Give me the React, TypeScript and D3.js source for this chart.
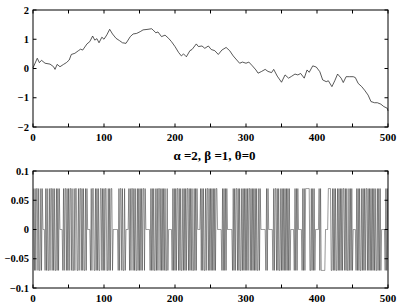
import React from "react";
import * as d3 from "d3";

const width = 399;
const height = 306;
const margin = { left: 33, right: 11 };
const topPanel = { top: 10, bottom: 127 };
const bottomPanel = { top: 171, bottom: 288 };

// upper panel: cumulative path
const walkX = [
  0, 6, 9, 12, 17, 24, 29, 31, 34, 38, 43, 47, 51, 54, 59, 64, 67, 70, 76, 80,
  84, 87, 90, 93, 97, 100, 104, 108, 112, 117, 122, 126, 131, 137, 141, 146, 151, 155, 162, 167,
  169, 173, 176, 181, 186, 191, 195, 200, 205, 209, 212, 216, 221, 224, 230, 233, 238, 242, 247, 251,
  256, 261, 266, 272, 277, 282, 287, 291, 295, 300, 304, 309, 314, 317, 322, 327, 331, 336, 339, 344,
  350, 355, 360, 364, 369, 373, 377, 382, 386, 389, 394, 399, 404, 408, 413, 416, 421, 425, 429, 434,
  437, 441, 446, 451, 454, 458, 463, 467, 472, 476, 481, 485, 490, 494, 499, 500,
];
const walkY = [
  0.02, 0.35, 0.2, 0.28, 0.18, 0.15, 0.06, -0.03, 0.14, 0.06, 0.14, 0.2, 0.29, 0.48, 0.52, 0.61, 0.66, 0.63, 0.84, 0.92,
  1.11, 0.97, 1.02, 0.88, 1.07, 1.0, 1.15, 1.34, 1.18, 1.03, 0.95, 0.88, 0.86, 1.09, 1.18, 1.2, 1.26, 1.32, 1.34, 1.36,
  1.32, 1.22, 1.25, 1.09, 1.14, 1.03, 0.92, 0.75, 0.55, 0.43, 0.5, 0.4, 0.61, 0.65, 0.84, 0.75, 0.77, 0.69, 0.77, 0.65,
  0.61, 0.48, 0.63, 0.72, 0.61, 0.43, 0.29, 0.18, 0.22, 0.18, 0.22, 0.09, -0.05, -0.16, -0.1, -0.03, -0.1, -0.14, -0.03, -0.26,
  -0.47, -0.22, -0.33, -0.27, -0.19, -0.22, -0.17, -0.33, -0.05, -0.13, 0.09, 0.05, -0.11, -0.39, -0.45, -0.42, -0.62, -0.42, -0.19, -0.33,
  -0.48, -0.28, -0.28, -0.28, -0.31, -0.51, -0.62, -0.74, -0.91, -1.13, -1.17, -1.17, -1.22, -1.3, -1.36, -1.45,
];

// lower panel: increments, "+" = +0.07, "-" = -0.07, "0" = 0
const stepLevel = 0.07;
const stepCodes = [
  "+-+-++-+--+-+000-+-+--+-++-+-+--+-+-+0000-+-++-+-+",
  "-++-+--+-++--+-++-+-+--+-+0000-+-++--+-+-+--++-+-+",
  "-++--+-+-++-0000000-+-++-+--+-0000+-+-++-+-+--+-+-",
  "+-+-++-+000000-+-+-+--+-+-++-+-+-+-+--+-00000-+-+-",
  "+-++-+-+--+-+-+-++-+-+-+--+-+-+0000+-+-+--+-++-+-+",
  "-+-+-+-++000000-+-+-+-+0000000-+-+-++-+-+--+-+-+-+",
  "-+-++-+-+-+-+-+--+-+0000000-+-+000000-+-++-+-+--+-",
  "+-+-+-+-+-+-00000-+-+-+00000-+-+-++++++--+-+-+-000",
  "00+-+------0000++++--+-+-+--+-+-+-+-++-+-+--+-+-+-",
  "0000-+-+-+--+-+-+-++-+-+-+-+-+-+--+-+-+-00000-+-+-",
];
const stepValues = stepCodes
  .join("")
  .split("")
  .map((c) => (c === "+" ? stepLevel : c === "-" ? -stepLevel : 0));

const xTicks = [0, 50, 100, 150, 200, 250, 300, 350, 400, 450, 500];
const xLabels = [0, 100, 200, 300, 400, 500];
const topYTicks = [-2, -1, 0, 1, 2];
const topYLabels = ["\u22122", "\u22121", "0", "1", "2"];
const bottomYTicks = [-0.1, -0.05, 0, 0.05, 0.1];
const bottomYLabels = ["\u22120.1", "\u22120.05", "0", "0.05", "0.1"];
const titleText = "\u03b1 =2, \u03b2 =1, \u03b8=0";

const font = "'Liberation Serif', 'Times New Roman', serif";
const tickLen = 3.5;

function Frame({ x, y, yTicks, yLabels }) {
  const [x0, x1] = x.range();
  const [y0, y1] = y.range();
  return (
    <g>
      <rect x={x0} y={y1} width={x1 - x0} height={y0 - y1} fill="none" stroke="#000" strokeWidth={1} />
      {xTicks.map((t) => (
        <g key={"xt" + t}>
          <line x1={x(t)} x2={x(t)} y1={y0} y2={y0 - tickLen} stroke="#000" />
          <line x1={x(t)} x2={x(t)} y1={y1} y2={y1 + tickLen} stroke="#000" />
        </g>
      ))}
      {yTicks.map((t) => (
        <g key={"yt" + t}>
          <line x1={x0} x2={x0 + tickLen} y1={y(t)} y2={y(t)} stroke="#000" />
          <line x1={x1} x2={x1 - tickLen} y1={y(t)} y2={y(t)} stroke="#000" />
        </g>
      ))}
      {xLabels.map((t) => (
        <text key={"xl" + t} x={x(t)} y={y0 + 14} textAnchor="middle" fontSize={11} fontWeight="bold" fontFamily={font}>
          {t}
        </text>
      ))}
      {yTicks.map((t, i) => (
        <text key={"yl" + t} x={x0 - 4} y={y(t)} dy="0.35em" textAnchor="end" fontSize={10.5} fontWeight="bold" fontFamily={font}>
          {yLabels[i]}
        </text>
      ))}
    </g>
  );
}

export default function App() {
  const x = d3.scaleLinear().domain([0, 500]).range([margin.left, width - margin.right]);
  const yTop = d3.scaleLinear().domain([-2, 2]).range([topPanel.bottom, topPanel.top]);
  const yBottom = d3.scaleLinear().domain([-0.1, 0.1]).range([bottomPanel.bottom, bottomPanel.top]);

  const walkLine = d3
    .line<number>()
    .x((d, i) => x(walkX[i]))
    .y((d) => yTop(d));
  const stepLine = d3
    .line<number>()
    .x((d, i) => x(i + 1))
    .y((d) => yBottom(d));

  const n = Math.min(walkX.length, walkY.length);

  return (
    <svg width={width} height={height} style={{ position: "absolute", left: 0, top: 0, background: "#fff" }}>
      <defs>
        <clipPath id="clipBottom">
          <rect x={margin.left} y={bottomPanel.top} width={width - margin.right - margin.left} height={bottomPanel.bottom - bottomPanel.top} />
        </clipPath>
      </defs>
      <path d={walkLine(walkY.slice(0, n)) || ""} fill="none" stroke="#111" strokeWidth={0.7} />
      <Frame x={x} y={yTop} yTicks={topYTicks} yLabels={topYLabels} />

      <path d={stepLine(stepValues) || ""} fill="none" stroke="#333" strokeWidth={0.5} clipPath="url(#clipBottom)" />
      <Frame x={x} y={yBottom} yTicks={bottomYTicks} yLabels={bottomYLabels} />
      <text x={(margin.left + width - margin.right) / 2 + 4} y={160} textAnchor="middle" fontSize={13} fontWeight="bold" fontFamily={font}>
        {titleText}
      </text>
    </svg>
  );
}
